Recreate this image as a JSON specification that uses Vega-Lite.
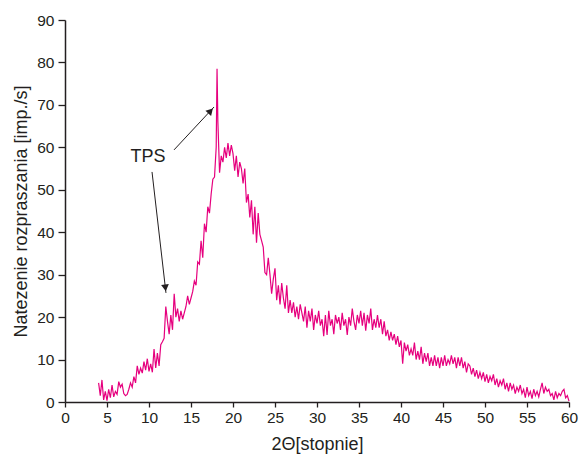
{
  "$schema": "https://vega.github.io/schema/vega-lite/v6.json",
  "width": 504,
  "height": 382,
  "autosize": {"type": "none"},
  "padding": {"left": 65, "top": 20, "right": 10, "bottom": 57},
  "background": "white",
  "config": {
    "view": {"stroke": null},
    "font": "Liberation Sans",
    "axis": {
      "domainColor": "#231f20",
      "domainWidth": 1.5,
      "tickColor": "#231f20",
      "tickWidth": 1.3,
      "grid": false,
      "labelFont": "Liberation Sans",
      "labelFontSize": 15.5,
      "labelColor": "#231f20",
      "titleFont": "Liberation Sans",
      "titleFontSize": 18,
      "titleFontWeight": "normal",
      "titleColor": "#231f20"
    }
  },
  "layer": [
    {
      "data": {
        "values": [
          {"x": 4.0, "y": 4.5}, {"x": 4.2, "y": 1.5}, {"x": 4.4, "y": 5.2}, {"x": 4.6, "y": 0.5}, {"x": 4.8, "y": 2.5},
          {"x": 5.0, "y": 0.3}, {"x": 5.2, "y": 3.0}, {"x": 5.4, "y": 1.0}, {"x": 5.6, "y": 4.0}, {"x": 5.8, "y": 1.2},
          {"x": 6.0, "y": 2.5}, {"x": 6.2, "y": 1.8}, {"x": 6.4, "y": 4.8}, {"x": 6.6, "y": 3.5}, {"x": 6.8, "y": 4.2},
          {"x": 7.0, "y": 2.0}, {"x": 7.2, "y": 1.5}, {"x": 7.4, "y": 1.8}, {"x": 7.6, "y": 3.0}, {"x": 7.8, "y": 4.5},
          {"x": 8.0, "y": 3.5}, {"x": 8.2, "y": 6.0}, {"x": 8.4, "y": 4.5}, {"x": 8.6, "y": 8.5}, {"x": 8.8, "y": 6.5},
          {"x": 9.0, "y": 8.0}, {"x": 9.2, "y": 6.8}, {"x": 9.4, "y": 9.5}, {"x": 9.6, "y": 7.5}, {"x": 9.8, "y": 10.2},
          {"x": 10.0, "y": 7.2}, {"x": 10.2, "y": 9.0}, {"x": 10.4, "y": 7.0}, {"x": 10.6, "y": 12.5}, {"x": 10.8, "y": 8.0},
          {"x": 11.0, "y": 11.5}, {"x": 11.2, "y": 8.5}, {"x": 11.4, "y": 13.5}, {"x": 11.6, "y": 14.2}, {"x": 11.8, "y": 15.0},
          {"x": 12.0, "y": 22.5}, {"x": 12.2, "y": 19.0}, {"x": 12.4, "y": 16.0}, {"x": 12.6, "y": 20.5}, {"x": 12.8, "y": 17.0},
          {"x": 13.0, "y": 25.5}, {"x": 13.2, "y": 20.0}, {"x": 13.4, "y": 22.0}, {"x": 13.6, "y": 19.0}, {"x": 13.8, "y": 21.5},
          {"x": 14.0, "y": 19.5}, {"x": 14.2, "y": 21.0}, {"x": 14.4, "y": 22.5}, {"x": 14.6, "y": 25.0}, {"x": 14.8, "y": 23.0},
          {"x": 15.0, "y": 24.5}, {"x": 15.2, "y": 26.0}, {"x": 15.4, "y": 28.5}, {"x": 15.6, "y": 27.5}, {"x": 15.8, "y": 33.0},
          {"x": 16.0, "y": 32.5}, {"x": 16.2, "y": 38.0}, {"x": 16.4, "y": 34.0}, {"x": 16.6, "y": 42.0}, {"x": 16.8, "y": 40.0},
          {"x": 17.0, "y": 46.0}, {"x": 17.2, "y": 44.5}, {"x": 17.4, "y": 49.0}, {"x": 17.6, "y": 52.5}, {"x": 17.8, "y": 53.0},
          {"x": 18.0, "y": 60.0}, {"x": 18.1, "y": 78.5}, {"x": 18.2, "y": 66.0}, {"x": 18.4, "y": 54.0}, {"x": 18.6, "y": 58.0},
          {"x": 18.8, "y": 56.5}, {"x": 19.0, "y": 60.0}, {"x": 19.2, "y": 57.5}, {"x": 19.4, "y": 61.0}, {"x": 19.6, "y": 58.0},
          {"x": 19.8, "y": 60.5}, {"x": 20.0, "y": 58.5}, {"x": 20.2, "y": 54.5}, {"x": 20.4, "y": 58.0}, {"x": 20.6, "y": 53.0},
          {"x": 20.8, "y": 56.5}, {"x": 21.0, "y": 55.0}, {"x": 21.2, "y": 51.5}, {"x": 21.4, "y": 55.0}, {"x": 21.6, "y": 47.0},
          {"x": 21.8, "y": 49.0}, {"x": 22.0, "y": 43.5}, {"x": 22.2, "y": 47.5}, {"x": 22.4, "y": 39.5}, {"x": 22.6, "y": 46.0},
          {"x": 22.8, "y": 37.5}, {"x": 23.0, "y": 44.5}, {"x": 23.2, "y": 39.5}, {"x": 23.4, "y": 38.0}, {"x": 23.6, "y": 36.5},
          {"x": 23.8, "y": 30.5}, {"x": 24.0, "y": 30.0}, {"x": 24.2, "y": 34.0}, {"x": 24.4, "y": 30.0}, {"x": 24.6, "y": 25.5},
          {"x": 24.8, "y": 29.0}, {"x": 25.0, "y": 31.5}, {"x": 25.2, "y": 24.0}, {"x": 25.4, "y": 27.5}, {"x": 25.6, "y": 23.0},
          {"x": 25.8, "y": 28.0}, {"x": 26.0, "y": 24.5}, {"x": 26.2, "y": 22.0}, {"x": 26.4, "y": 27.5}, {"x": 26.6, "y": 21.0},
          {"x": 26.8, "y": 24.0}, {"x": 27.0, "y": 21.0}, {"x": 27.2, "y": 23.5}, {"x": 27.4, "y": 20.0}, {"x": 27.6, "y": 22.5},
          {"x": 27.8, "y": 19.5}, {"x": 28.0, "y": 23.0}, {"x": 28.2, "y": 21.0}, {"x": 28.4, "y": 19.0}, {"x": 28.6, "y": 22.5},
          {"x": 28.8, "y": 17.5}, {"x": 29.0, "y": 21.5}, {"x": 29.2, "y": 19.0}, {"x": 29.4, "y": 22.0}, {"x": 29.6, "y": 17.0},
          {"x": 29.8, "y": 20.5}, {"x": 30.0, "y": 18.5}, {"x": 30.2, "y": 21.5}, {"x": 30.4, "y": 18.0}, {"x": 30.6, "y": 19.5},
          {"x": 30.8, "y": 15.5}, {"x": 31.0, "y": 20.5}, {"x": 31.2, "y": 15.8}, {"x": 31.4, "y": 21.5}, {"x": 31.6, "y": 18.0},
          {"x": 31.8, "y": 19.5}, {"x": 32.0, "y": 16.0}, {"x": 32.2, "y": 20.5}, {"x": 32.4, "y": 18.5}, {"x": 32.6, "y": 20.0},
          {"x": 32.8, "y": 17.0}, {"x": 33.0, "y": 21.0}, {"x": 33.2, "y": 18.0}, {"x": 33.4, "y": 19.5}, {"x": 33.6, "y": 15.8},
          {"x": 33.8, "y": 20.0}, {"x": 34.0, "y": 18.0}, {"x": 34.2, "y": 22.0}, {"x": 34.4, "y": 19.0}, {"x": 34.6, "y": 17.0},
          {"x": 34.8, "y": 20.5}, {"x": 35.0, "y": 18.5}, {"x": 35.2, "y": 21.5}, {"x": 35.4, "y": 18.0}, {"x": 35.6, "y": 21.0},
          {"x": 35.8, "y": 16.8}, {"x": 36.0, "y": 20.5}, {"x": 36.2, "y": 18.5}, {"x": 36.4, "y": 22.0}, {"x": 36.6, "y": 17.0},
          {"x": 36.8, "y": 19.5}, {"x": 37.0, "y": 17.5}, {"x": 37.2, "y": 20.5}, {"x": 37.4, "y": 17.5}, {"x": 37.6, "y": 19.5},
          {"x": 37.8, "y": 16.0}, {"x": 38.0, "y": 19.0}, {"x": 38.2, "y": 15.5}, {"x": 38.4, "y": 17.0}, {"x": 38.6, "y": 14.5},
          {"x": 38.8, "y": 16.5}, {"x": 39.0, "y": 14.5}, {"x": 39.2, "y": 16.0}, {"x": 39.4, "y": 13.5}, {"x": 39.6, "y": 15.5},
          {"x": 39.8, "y": 13.0}, {"x": 40.0, "y": 14.5}, {"x": 40.2, "y": 9.0}, {"x": 40.4, "y": 14.0}, {"x": 40.6, "y": 12.0},
          {"x": 40.8, "y": 13.5}, {"x": 41.0, "y": 11.0}, {"x": 41.2, "y": 12.5}, {"x": 41.4, "y": 11.0}, {"x": 41.6, "y": 14.0},
          {"x": 41.8, "y": 10.0}, {"x": 42.0, "y": 12.0}, {"x": 42.2, "y": 10.0}, {"x": 42.4, "y": 13.0}, {"x": 42.6, "y": 9.0},
          {"x": 42.8, "y": 11.5}, {"x": 43.0, "y": 9.5}, {"x": 43.2, "y": 11.5}, {"x": 43.4, "y": 8.5}, {"x": 43.6, "y": 10.5},
          {"x": 43.8, "y": 8.5}, {"x": 44.0, "y": 11.0}, {"x": 44.2, "y": 8.5}, {"x": 44.4, "y": 10.5}, {"x": 44.6, "y": 8.0},
          {"x": 44.8, "y": 10.5}, {"x": 45.0, "y": 8.5}, {"x": 45.2, "y": 11.0}, {"x": 45.4, "y": 8.5}, {"x": 45.6, "y": 10.0},
          {"x": 45.8, "y": 9.0}, {"x": 46.0, "y": 11.0}, {"x": 46.2, "y": 9.0}, {"x": 46.4, "y": 10.5}, {"x": 46.6, "y": 8.0},
          {"x": 46.8, "y": 10.5}, {"x": 47.0, "y": 8.5}, {"x": 47.2, "y": 10.5}, {"x": 47.4, "y": 8.0}, {"x": 47.6, "y": 9.5},
          {"x": 47.8, "y": 7.0}, {"x": 48.0, "y": 9.0}, {"x": 48.2, "y": 8.5}, {"x": 48.4, "y": 6.5}, {"x": 48.6, "y": 8.0},
          {"x": 48.8, "y": 6.0}, {"x": 49.0, "y": 7.5}, {"x": 49.2, "y": 5.5}, {"x": 49.4, "y": 7.0}, {"x": 49.6, "y": 5.5},
          {"x": 49.8, "y": 7.0}, {"x": 50.0, "y": 4.8}, {"x": 50.2, "y": 6.5}, {"x": 50.4, "y": 4.5}, {"x": 50.6, "y": 6.0},
          {"x": 50.8, "y": 5.0}, {"x": 51.0, "y": 6.5}, {"x": 51.2, "y": 4.0}, {"x": 51.4, "y": 5.5}, {"x": 51.6, "y": 3.5},
          {"x": 51.8, "y": 5.0}, {"x": 52.0, "y": 4.0}, {"x": 52.2, "y": 5.5}, {"x": 52.4, "y": 3.0}, {"x": 52.6, "y": 4.5},
          {"x": 52.8, "y": 2.5}, {"x": 53.0, "y": 4.5}, {"x": 53.2, "y": 3.0}, {"x": 53.4, "y": 4.0}, {"x": 53.6, "y": 2.0},
          {"x": 53.8, "y": 3.5}, {"x": 54.0, "y": 2.5}, {"x": 54.2, "y": 4.0}, {"x": 54.4, "y": 2.0}, {"x": 54.6, "y": 3.0},
          {"x": 54.8, "y": 1.0}, {"x": 55.0, "y": 3.5}, {"x": 55.2, "y": 1.5}, {"x": 55.4, "y": 2.5}, {"x": 55.6, "y": 0.8},
          {"x": 55.8, "y": 3.0}, {"x": 56.0, "y": 1.5}, {"x": 56.2, "y": 2.5}, {"x": 56.4, "y": 1.2}, {"x": 56.6, "y": 3.0},
          {"x": 56.8, "y": 4.5}, {"x": 57.0, "y": 2.0}, {"x": 57.2, "y": 3.5}, {"x": 57.4, "y": 2.5}, {"x": 57.6, "y": 3.0},
          {"x": 57.8, "y": 1.5}, {"x": 58.0, "y": 2.0}, {"x": 58.2, "y": 0.5}, {"x": 58.4, "y": 2.5}, {"x": 58.6, "y": 1.0},
          {"x": 58.8, "y": 2.0}, {"x": 59.0, "y": 1.5}, {"x": 59.2, "y": 2.5}, {"x": 59.4, "y": 3.0}, {"x": 59.6, "y": 1.0},
          {"x": 59.8, "y": 1.5}, {"x": 60.0, "y": 0.2}
        ]
      },
      "mark": {"type": "line", "color": "#e6007e", "strokeWidth": 1.2},
      "encoding": {
        "x": {
          "field": "x", "type": "quantitative",
          "scale": {"domain": [0, 60], "nice": false, "zero": false},
          "axis": {
            "title": "2Θ[stopnie]",
            "values": [0, 2.5, 5, 7.5, 10, 12.5, 15, 17.5, 20, 22.5, 25, 27.5, 30, 32.5, 35, 37.5, 40, 42.5, 45, 47.5, 50, 52.5, 55, 57.5, 60],
            "labelExpr": "datum.value % 5 === 0 ? datum.label : ''",
            "tickSize": {"condition": {"test": "datum.value % 5 !== 0", "value": 3}, "value": 5},
            "labelPadding": 3,
            "labelFlush": false,
            "labelOverlap": false,
            "titlePadding": 10
          }
        },
        "y": {
          "field": "y", "type": "quantitative",
          "scale": {"domain": [0, 90], "nice": false},
          "axis": {
            "title": "Natezenie rozpraszania [imp./s]",
            "values": [0, 5, 10, 15, 20, 25, 30, 35, 40, 45, 50, 55, 60, 65, 70, 75, 80, 85, 90],
            "labelExpr": "datum.value % 10 === 0 ? datum.label : ''",
            "tickSize": {"condition": {"test": "datum.value % 10 !== 0", "value": 3.5}, "value": 7},
            "labelPadding": 4,
            "labelFlush": false,
            "labelOverlap": false,
            "titlePadding": 6
          }
        }
      }
    },
    {
      "data": {"values": [
        {"x1": 12.98, "y1": 59.4, "x2": 17.74, "y2": 69.5},
        {"x1": 10.36, "y1": 54.2, "x2": 12.02, "y2": 25.7}
      ]},
      "mark": {"type": "rule", "color": "#231f20", "strokeWidth": 1},
      "encoding": {
        "x": {"field": "x1", "type": "quantitative"},
        "y": {"field": "y1", "type": "quantitative"},
        "x2": {"field": "x2"},
        "y2": {"field": "y2"}
      }
    },
    {
      "data": {"values": [
        {"x": 17.33, "y": 68.6, "angle": 43},
        {"x": 11.95, "y": 26.9, "angle": 173}
      ]},
      "mark": {"type": "point", "shape": "triangle-up", "filled": true, "color": "#231f20", "size": 60, "opacity": 1},
      "encoding": {
        "x": {"field": "x", "type": "quantitative"},
        "y": {"field": "y", "type": "quantitative"},
        "angle": {"field": "angle", "type": "quantitative", "scale": null}
      }
    },
    {
      "data": {"values": [{"x": 9.88, "y": 57.7, "label": "TPS"}]},
      "mark": {"type": "text", "font": "Liberation Sans", "fontSize": 18, "color": "#231f20", "align": "center", "baseline": "middle"},
      "encoding": {
        "x": {"field": "x", "type": "quantitative"},
        "y": {"field": "y", "type": "quantitative"},
        "text": {"field": "label"}
      }
    }
  ]
}
